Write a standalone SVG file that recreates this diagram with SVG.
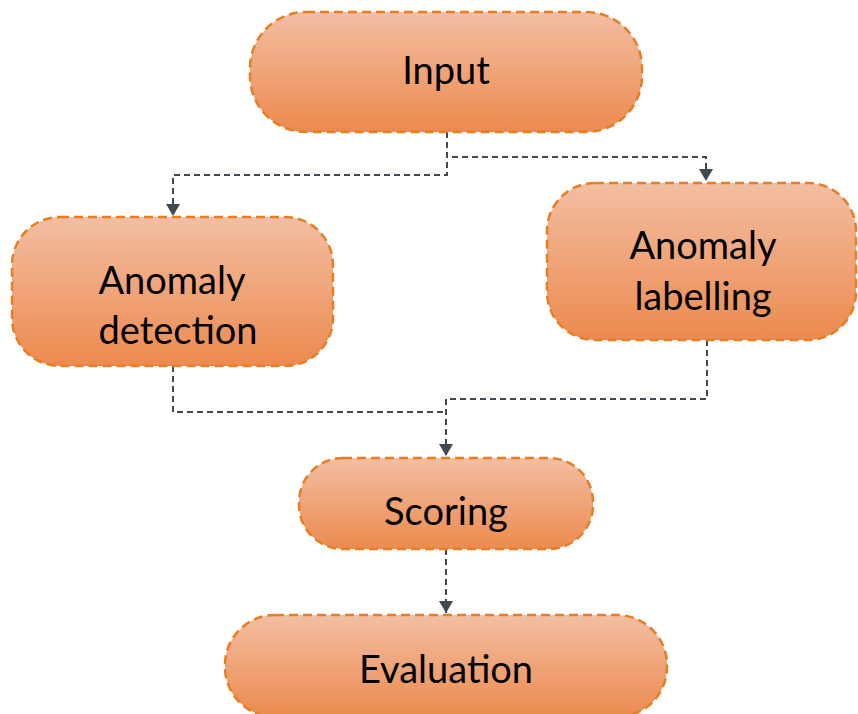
<svg xmlns="http://www.w3.org/2000/svg" width="858" height="714" viewBox="0 0 858 714">
  <style>
    .box { stroke: #e87d22; stroke-width: 2.5; stroke-dasharray: 9 5; }
    .lbl { font-family: Lato, "Liberation Sans", sans-serif; font-size: 38px; fill: #000; text-anchor: middle; }
    .link { fill: none; stroke: #414a51; stroke-width: 2; stroke-dasharray: 6 4; }
  </style>
  <defs>
    <linearGradient id="fillGrad" x1="0" y1="0" x2="0" y2="1">
      <stop offset="0" stop-color="#f3bea2"/>
      <stop offset="1" stop-color="#ec8a4e"/>
    </linearGradient>
    <marker id="arrow" markerUnits="userSpaceOnUse" markerWidth="14" markerHeight="14" refX="12" refY="7" orient="auto">
      <path d="M0,0 L12,7 L0,14 Z" fill="#414a51"/>
    </marker>
  </defs>

  <g id="connectors">
    <path class="link" d="M447,132 V157 H706 V181" marker-end="url(#arrow)"/>
    <path class="link" d="M447,132 V175 H173 V216" marker-end="url(#arrow)"/>
    <path class="link" d="M173,366 V412 H446"/>
    <path class="link" d="M707,340 V399 H446 V456" marker-end="url(#arrow)"/>
    <path class="link" d="M446,549 V613" marker-end="url(#arrow)"/>
  </g>

  <g id="input">
    <rect class="box" x="250" y="12" width="392" height="120" rx="56" fill="url(#fillGrad)"/>
    <text class="lbl" x="446" y="84">Input</text>
  </g>

  <g id="anomaly-detection">
    <rect class="box" x="12" y="217" width="321" height="149" rx="48" fill="url(#fillGrad)"/>
    <text class="lbl" x="172" y="294">Anomaly</text>
    <text class="lbl" x="178" y="344">detection</text>
  </g>

  <g id="anomaly-labelling">
    <rect class="box" x="547" y="183" width="309" height="157" rx="48" fill="url(#fillGrad)"/>
    <text class="lbl" x="703" y="259">Anomaly</text>
    <text class="lbl" x="703" y="310">labelling</text>
  </g>

  <g id="scoring">
    <rect class="box" x="299" y="458" width="294" height="91" rx="44" fill="url(#fillGrad)"/>
    <text class="lbl" x="446" y="525">Scoring</text>
  </g>

  <g id="evaluation">
    <rect class="box" x="225" y="615" width="442" height="102" rx="50" fill="url(#fillGrad)"/>
    <text class="lbl" x="446" y="683">Evaluation</text>
  </g>
</svg>
